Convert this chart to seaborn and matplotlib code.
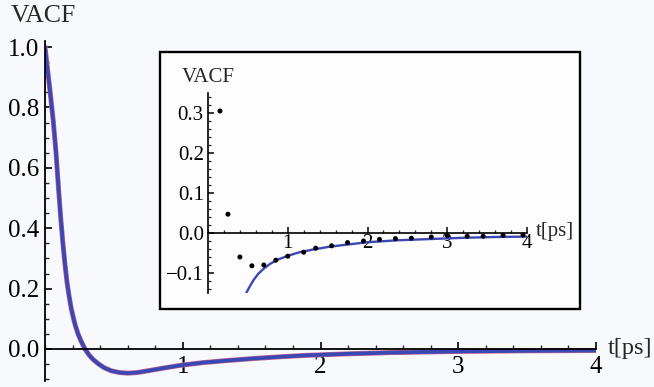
import numpy as np
import pandas as pd
import matplotlib
matplotlib.use("Agg")
import matplotlib.pyplot as plt
from matplotlib.patches import Rectangle
from matplotlib.ticker import MultipleLocator
import seaborn as sns

# ---- data ----
t_main = [0, 0.02, 0.04, 0.06, 0.08, 0.1, 0.115, 0.13, 0.145, 0.16, 0.175, 0.19,
          0.205, 0.22, 0.24, 0.26, 0.29, 0.32, 0.35, 0.39, 0.43, 0.48, 0.54, 0.6,
          0.67, 0.75, 0.85, 1.0, 1.15, 1.3, 1.5, 1.7, 1.9, 2.2, 2.5, 3.0, 3.5, 4.0]
vacf_main = [1.0, 0.92, 0.84, 0.755, 0.65, 0.52, 0.43, 0.35, 0.28, 0.22, 0.175, 0.135,
             0.105, 0.078, 0.05, 0.028, 0.0, -0.02, -0.035, -0.05, -0.062, -0.072,
             -0.078, -0.08, -0.078, -0.072, -0.064, -0.053, -0.045, -0.039, -0.032,
             -0.026, -0.021, -0.016, -0.012, -0.008, -0.006, -0.005]

t_dots = [0.15, 0.25, 0.40, 0.55, 0.70, 0.85, 1.0, 1.2, 1.35, 1.55, 1.75, 1.95,
          2.15, 2.35, 2.55, 2.8, 3.0, 3.25, 3.45, 3.7, 3.95]
vacf_dots = [0.305, 0.047, -0.06, -0.082, -0.08, -0.068, -0.058, -0.048, -0.038,
             -0.032, -0.024, -0.02, -0.016, -0.014, -0.013, -0.01, -0.006, -0.008,
             -0.008, -0.006, -0.005]

t_fit = [0.48, 0.52, 0.57, 0.63, 0.7, 0.78, 0.87, 1.0, 1.15, 1.3, 1.5, 1.7, 2.0,
         2.4, 2.8, 3.2, 3.6, 4.0]
vacf_fit = [-0.15, -0.135, -0.118, -0.102, -0.089, -0.077, -0.067, -0.057, -0.048,
            -0.042, -0.035, -0.03, -0.023, -0.018, -0.015, -0.012, -0.010, -0.009]

main_xticks = [1, 2, 3, 4]
main_yticks = [0.0, 0.2, 0.4, 0.6, 0.8, 1.0]
inset_xticks = [1, 2, 3, 4]
inset_yticks = [-0.1, 0.0, 0.1, 0.2, 0.3]

df_main = pd.DataFrame({"t": t_main, "v": vacf_main})
df_dots = pd.DataFrame({"t": t_dots, "v": vacf_dots})
df_fit = pd.DataFrame({"t": t_fit, "v": vacf_fit})

sns.set_style("white")
plt.rcParams["font.family"] = ["Liberation Serif", "DejaVu Serif"]
plt.rcParams["lines.solid_joinstyle"] = "round"

bg = "#f8f9fc"
fig = plt.figure(figsize=(6.54, 3.87), dpi=100, facecolor=bg)

# ---- main axes ----
ax = fig.add_axes([45 / 654, 1 - 380.7 / 387, (596 - 45) / 654, (380.7 - 41) / 387])
ax.set_facecolor("none")
sns.lineplot(data=df_main, x="t", y="v", ax=ax, color="#c86a8a", lw=3.6, sort=False)
sns.lineplot(data=df_main, x="t", y="v", ax=ax, color="#3a47b4", lw=2.7, sort=False)
ax.set_xlim(0, 4)
ax.set_ylim(-0.105, 1.02)
for s in ["top", "right"]:
    ax.spines[s].set_visible(False)
ax.spines["bottom"].set_position(("data", 0))
ax.spines["left"].set_position(("data", 0))
for s in ["bottom", "left"]:
    ax.spines[s].set_linewidth(1.3)
    ax.spines[s].set_color("black")
ax.set_xticks(main_xticks)
ax.set_xticklabels([str(v) for v in main_xticks])
ax.set_yticks(main_yticks)
ax.set_yticklabels([f"{v:.1f}" for v in main_yticks])
ax.xaxis.set_minor_locator(MultipleLocator(0.2))
ax.yaxis.set_minor_locator(MultipleLocator(0.05))
ax.tick_params(axis="both", which="both", bottom=True, left=True)
ax.tick_params(axis="both", which="major", direction="in", length=5, width=1.2,
               labelsize=18, colors="black")
ax.tick_params(axis="both", which="minor", direction="in", length=3, width=1.0)
ax.tick_params(axis="x", which="major", pad=5)
ax.tick_params(axis="y", which="major", pad=4)
ax.set_xlabel("")
ax.set_ylabel("")
ax.annotate("t[ps]", xy=(4, 0), xycoords="data", xytext=(12, 0),
            textcoords="offset pixels", va="center", ha="left", fontsize=17.5)
fig.text(11 / 654, 1 - 16 / 387, "VACF", fontsize=18.5, va="center", ha="left")

# ---- inset frame ----
frame = Rectangle((160 / 654, 1 - 309 / 387), 420 / 654, 257 / 387,
                  transform=fig.transFigure, facecolor="#fdfdfe",
                  edgecolor="black", lw=1.7, zorder=2)
fig.patches.append(frame)

# ---- inset axes ----
ia = fig.add_axes([208 / 654, 1 - 293 / 387, (527 - 208) / 654, (293 - 93) / 387])
ia.set_facecolor("none")
ia.set_zorder(3)
sns.lineplot(data=df_fit, x="t", y="v", ax=ia, color="#3a47b4", lw=1.7, sort=False)
sns.scatterplot(data=df_dots, x="t", y="v", ax=ia, color="black", s=13,
                edgecolor="none", zorder=4)
ia.set_xlim(0, 4)
ia.set_ylim(-0.15, 0.35)
for s in ["top", "right"]:
    ia.spines[s].set_visible(False)
ia.spines["bottom"].set_position(("data", 0))
ia.spines["left"].set_position(("data", 0))
for s in ["bottom", "left"]:
    ia.spines[s].set_linewidth(1.2)
    ia.spines[s].set_color("black")
ia.set_xticks(inset_xticks)
ia.set_xticklabels([str(v) for v in inset_xticks])
ia.set_yticks(inset_yticks)
ia.set_yticklabels([f"{v:.1f}".replace("-", "\u2212") for v in inset_yticks])
ia.xaxis.set_minor_locator(MultipleLocator(0.2))
ia.yaxis.set_minor_locator(MultipleLocator(0.02))
ia.tick_params(axis="both", which="both", bottom=True, left=True)
ia.tick_params(axis="both", which="major", direction="in", length=4, width=1.1,
               labelsize=15, colors="black")
ia.tick_params(axis="both", which="minor", direction="in", length=2.5, width=0.9)
ia.tick_params(axis="x", which="major", pad=1)
ia.tick_params(axis="y", which="major", pad=3)
ia.set_xlabel("")
ia.set_ylabel("")
ia.annotate("t[ps]", xy=(4, 0), xycoords="data", xytext=(9, 2),
            textcoords="offset pixels", va="center", ha="left", fontsize=15)
fig.text(182 / 654, 1 - 78 / 387, "VACF", fontsize=15, va="center", ha="left", zorder=5)

fig.savefig("out.png", dpi=100, facecolor=bg)
